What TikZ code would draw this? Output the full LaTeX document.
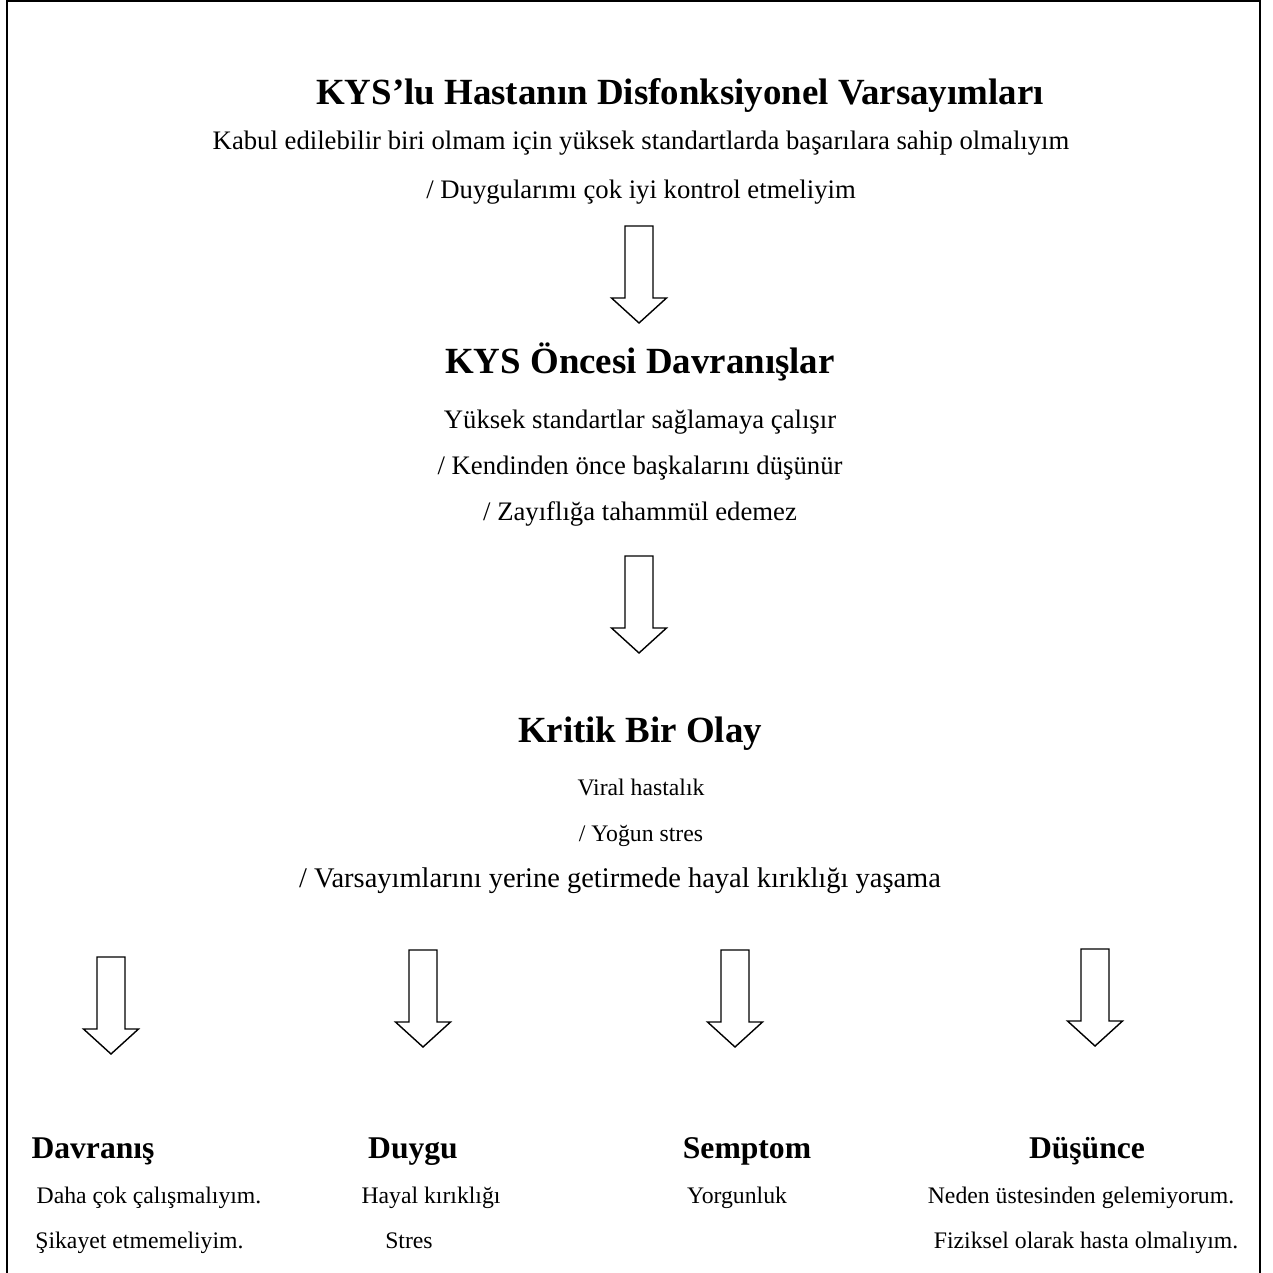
\documentclass[tikz,border=0pt]{standalone}
\usepackage{fontspec}
\setmainfont{Liberation Serif}
\usepackage{tikz}

\tikzset{
  txt/.style={inner sep=0pt, anchor=base, font=\fontsize{15.2}{18}\selectfont},
  smalltxt/.style={inner sep=0pt, anchor=base, font=\fontsize{13.5}{16}\selectfont},
  bigtxt/.style={inner sep=0pt, anchor=base, font=\fontsize{16.2}{19}\selectfont},
  title/.style={inner sep=0pt, anchor=base, font=\fontsize{21}{25}\selectfont\bfseries},
  subhead/.style={inner sep=0pt, anchor=base, font=\fontsize{18}{21}\selectfont\bfseries},
  hollow/.style={draw=black, line width=0.8pt, fill=white, line join=miter}
}

% hollow block arrow: centre x, top y
\newcommand{\hollowarrow}[2]{%
  \draw[hollow] (#1-14,#2) -- (#1-14,#2+72) -- (#1-27.5,#2+72)
    -- (#1,#2+97) -- (#1+27.5,#2+72) -- (#1+14,#2+72) -- (#1+14,#2) -- cycle;
}

\begin{document}
\begin{tikzpicture}[x=0.02cm, y=-0.02cm]
    \useasboundingbox (0,0) rectangle (1272,1273);

    % Outer frame (open at the bottom)
    \draw[line width=1.4pt] (7,1300) -- (7,1) -- (1260,1) -- (1260,1300);

    % Assumptions
    \node[title] (assume) at (680,105) {KYS’lu Hastanın Disfonksiyonel Varsayımları};
    \node[txt] (assumeA) at (641,150) {Kabul edilebilir biri olmam için yüksek standartlarda başarılara sahip olmalıyım};
    \node[txt] (assumeB) at (641,199) {/ Duygularımı çok iyi kontrol etmeliyim};

    \hollowarrow{639}{226}

    % Behaviour before
    \node[title] (before) at (640,374) {KYS Öncesi Davranışlar};
    \node[txt] (beforeA) at (640,428) {Yüksek standartlar sağlamaya çalışır};
    \node[txt] (beforeB) at (640,474) {/ Kendinden önce başkalarını düşünür};
    \node[txt] (beforeC) at (640,520) {/ Zayıflığa tahammül edemez};

    \hollowarrow{639}{556}

    % Critical event
    \node[title] (event) at (640,742) {Kritik Bir Olay};
    \node[smalltxt] (eventA) at (641,795) {Viral hastalık};
    \node[smalltxt] (eventB) at (641,841) {/ Yoğun stres};
    \node[bigtxt] (eventC) at (620,887) {/ Varsayımlarını yerine getirmede hayal kırıklığı yaşama};

    % Four outcomes
    \hollowarrow{111}{957}
    \hollowarrow{423}{950}
    \hollowarrow{735}{950}
    \hollowarrow{1095}{949}

    \node[subhead] (behav) at (93,1158) {Davranış};
    \node[smalltxt] (behavA) at (149,1203) {Daha çok çalışmalıyım.};
    \node[smalltxt, anchor=base west] (behavB) at (35,1248) {Şikayet etmemeliyim.};

    \node[subhead] (feel) at (413,1158) {Duygu};
    \node[smalltxt] (feelA) at (431,1203) {Hayal kırıklığı};
    \node[smalltxt] (feelB) at (409,1248) {Stres};

    \node[subhead] (sympt) at (747,1158) {Semptom};
    \node[smalltxt] (symptA) at (737,1203) {Yorgunluk};

    \node[subhead] (thought) at (1087,1158) {Düşünce};
    \node[smalltxt] (thoughtA) at (1081,1203) {Neden üstesinden gelemiyorum.};
    \node[smalltxt] (thoughtB) at (1086,1248) {Fiziksel olarak hasta olmalıyım.};
\end{tikzpicture}
\end{document}
